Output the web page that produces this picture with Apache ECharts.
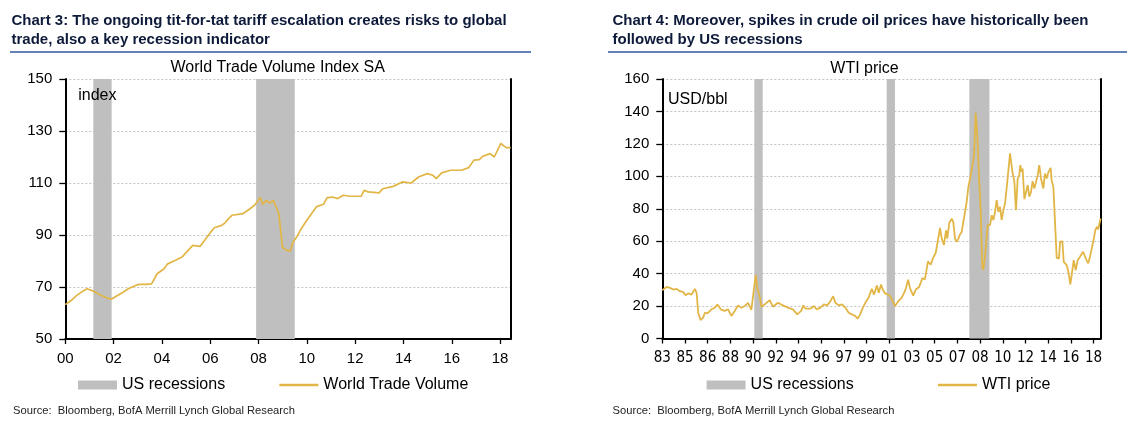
<!DOCTYPE html>
<html>
<head>
<meta charset="utf-8">
<title>World trade and WTI vs US recessions</title>
<script src="https://cdn.jsdelivr.net/npm/echarts@6.0.0/dist/echarts.min.js"></script>
<style>
  html, body { margin: 0; padding: 0; background: #fff; }
  #chart { width: 1127px; height: 432px; }
</style>
</head>
<body>
<div id="chart"></div>
<script>
(function () {
    'use strict';

    //////////DATA
    // Chart 3 - World Trade Volume Index SA, x = decimal year
    var tradeDates = [2000.00, 2000.24, 2000.46, 2000.76, 2000.90, 2000.98, 2001.16, 2001.50, 2001.72, 2001.90,
        2001.96, 2002.16, 2002.39, 2002.61, 2002.91, 2003.05, 2003.35, 2003.57, 2003.65, 2003.80,
        2004.09, 2004.24, 2004.54, 2004.83, 2004.98, 2005.28, 2005.58, 2005.87, 2006.02, 2006.17,
        2006.47, 2006.61, 2006.76, 2006.91, 2007.35, 2007.65, 2007.87, 2008.07, 2008.17, 2008.32,
        2008.47, 2008.61, 2008.76, 2008.84, 2008.99, 2009.13, 2009.31, 2009.43, 2009.58, 2009.73,
        2009.95, 2010.17, 2010.39, 2010.69, 2010.84, 2011.06, 2011.28, 2011.51, 2011.80, 2012.25,
        2012.37, 2012.54, 2012.99, 2013.14, 2013.58, 2013.95, 2014.32, 2014.62, 2014.99, 2015.21,
        2015.36, 2015.58, 2015.95, 2016.40, 2016.70, 2016.92, 2017.14, 2017.29, 2017.59, 2017.76,
        2018.03, 2018.25, 2018.44];
    var tradeIndex = [63.2, 64.8, 66.7, 68.6, 69.3, 69.3, 68.4, 66.7, 65.8, 65.3,
        64.8, 66.7, 68.0, 69.3, 70.6, 71.0, 71.0, 71.2, 72.5, 75.1,
        77.0, 78.9, 80.2, 81.5, 83.0, 86.0, 85.6, 89.2, 91.1, 92.8,
        93.7, 94.6, 96.3, 97.6, 98.2, 100.1, 101.8, 104.4, 101.8, 103.3,
        102.3, 103.3, 100.1, 98.2, 85.3, 84.3, 83.8, 87.3, 89.2, 91.8,
        95.0, 97.9, 100.8, 101.8, 104.4, 104.6, 104.0, 105.3, 104.9, 104.9,
        107.2, 106.6, 106.2, 107.8, 108.7, 110.4, 110.0, 112.3, 113.6, 113.0,
        111.7, 113.9, 114.9, 114.9, 115.9, 118.8, 119.0, 120.3, 121.3, 120.0,
        125.2, 123.6, 123.6];
    var tradeRecessions = [[2001.16, 2001.92], [2007.90, 2009.50]];
    var tradeTicks = [2000, 2002, 2004, 2006, 2008, 2010, 2012, 2014, 2016, 2018];

    // Chart 4 - WTI price, USD/bbl, x = decimal year
    var wtiDates = [1983.20, 1983.55, 1983.82, 1984.09, 1984.36, 1984.63, 1984.90, 1985.09, 1985.30, 1985.57,
        1985.84, 1985.98, 1986.11, 1986.30, 1986.51, 1986.65, 1986.86, 1987.19, 1987.46, 1987.67,
        1987.94, 1988.26, 1988.53, 1988.80, 1989.07, 1989.34, 1989.61, 1989.88, 1990.15, 1990.42,
        1990.58, 1990.77, 1990.90, 1991.09, 1991.23, 1991.50, 1991.90, 1992.17, 1992.57, 1992.98,
        1993.38, 1993.79, 1994.14, 1994.46, 1994.63, 1994.82, 1995.22, 1995.49, 1995.70, 1996.03,
        1996.29, 1996.56, 1996.83, 1997.05, 1997.23, 1997.50, 1997.77, 1998.04, 1998.31, 1998.57,
        1998.84, 1999.03, 1999.24, 1999.46, 1999.73, 1999.92, 2000.18, 2000.37, 2000.59, 2000.75,
        2000.93, 2001.07, 2001.26, 2001.52, 2001.71, 2002.06, 2002.33, 2002.60, 2002.87, 2002.95,
        2003.13, 2003.27, 2003.54, 2003.75, 2004.02, 2004.29, 2004.48, 2004.74, 2004.96, 2005.15,
        2005.36, 2005.55, 2005.71, 2005.85, 2006.03, 2006.20, 2006.30, 2006.47, 2006.66, 2006.79,
        2006.93, 2007.06, 2007.20, 2007.33, 2007.47, 2007.60, 2007.74, 2007.87, 2008.01, 2008.14,
        2008.22, 2008.36, 2008.47, 2008.60, 2008.74, 2008.87, 2009.01, 2009.14, 2009.22, 2009.36,
        2009.58, 2009.77, 2009.90, 2010.04, 2010.17, 2010.31, 2010.44, 2010.58, 2010.71, 2010.85,
        2010.98, 2011.14, 2011.39, 2011.58, 2011.74, 2011.87, 2012.01, 2012.14, 2012.22, 2012.33,
        2012.41, 2012.55, 2012.71, 2012.82, 2012.95, 2013.09, 2013.22, 2013.36, 2013.49, 2013.63,
        2013.76, 2013.90, 2014.09, 2014.22, 2014.36, 2014.49, 2014.68, 2014.76, 2014.90, 2015.17,
        2015.36, 2015.44, 2015.63, 2015.74, 2015.84, 2015.98, 2016.12, 2016.28, 2016.44, 2016.55,
        2016.71, 2016.87, 2017.06, 2017.31, 2017.59, 2017.73, 2017.93, 2018.16, 2018.30, 2018.44,
        2018.53, 2018.73];
    var wtiPrice = [29.8, 31.8, 31.2, 30.2, 30.6, 29.2, 28.6, 26.7, 27.8, 27.1,
        30.6, 28.2, 15.9, 11.4, 12.9, 15.9, 15.5, 18.0, 19.0, 21.0,
        18.0, 17.0, 18.0, 13.9, 17.0, 20.4, 19.0, 20.0, 22.0, 17.6,
        18.0, 39.2, 31.2, 26.0, 19.6, 21.0, 23.7, 19.6, 22.0, 20.4,
        19.0, 18.0, 14.9, 17.0, 20.4, 18.4, 18.4, 20.0, 18.0, 19.0,
        21.0, 20.4, 23.0, 26.1, 22.0, 20.4, 21.0, 19.0, 15.9, 14.9,
        13.9, 12.2, 14.9, 19.0, 23.0, 25.1, 30.6, 27.1, 32.7, 28.2,
        33.3, 30.2, 27.8, 27.1, 25.7, 20.0, 23.0, 25.1, 29.2, 31.2,
        36.3, 31.2, 26.5, 30.2, 31.8, 37.3, 36.3, 47.6, 45.5, 49.6,
        52.7, 60.8, 68.2, 61.6, 57.6, 66.7, 61.6, 71.4, 73.9, 71.8,
        61.6, 59.6, 61.6, 64.1, 65.7, 71.8, 78.0, 84.1, 93.3, 94.3,
        101.4, 102.4, 112.7, 139.2, 124.9, 100.4, 78.0, 44.3, 42.2, 50.4,
        69.9, 69.9, 76.0, 73.0, 78.0, 85.3, 78.0, 81.2, 73.0, 79.1,
        83.2, 94.6, 114.1, 102.8, 96.6, 79.1, 98.7, 100.7, 106.9, 102.8,
        104.8, 85.9, 86.3, 94.6, 87.4, 90.4, 97.0, 92.5, 93.5, 100.7,
        106.9, 98.7, 92.5, 101.7, 98.7, 102.4, 105.2, 97.6, 93.5, 49.7,
        49.3, 59.6, 60.0, 47.3, 48.3, 45.2, 41.1, 33.3, 42.1, 48.3,
        42.1, 48.3, 50.4, 53.5, 48.3, 46.3, 52.4, 60.7, 66.8, 68.9,
        67.2, 74.0];
    var wtiRecessions = [[1990.66, 1991.34], [2001.39, 2002.06], [2008.09, 2009.72]];
    // the source axis puts a label every 1.84 years starting at 83
    var wtiTickStart = 1983.2;
    var wtiTickStep = 1.84;
    var wtiTickCount = 20;

    //////////STYLE
    var GOLD = '#E2B646';
    var GREY = '#BFBFBF';
    var NAVY = '#0E1A3A';
    var RULE = '#6482B8';
    var SANS = '"Liberation Sans", Arial, sans-serif';
    var NARROW = '"Liberation Sans Narrow", "Arial Narrow", "DejaVu Sans Condensed", sans-serif';

    var wtiTicks = [];
    for (var k = 0; k < wtiTickCount; k++) {
        wtiTicks.push(+(wtiTickStart + k * wtiTickStep).toFixed(2));
    }

    function pairs(xs, ys) {
        return xs.map(function (x, i) { return [x, ys[i]]; });
    }
    function recessionAreas(list) {
        return list.map(function (r) { return [{ xAxis: r[0] }, { xAxis: r[1] }]; });
    }
    function yearLabel(v) {
        var y = Math.floor(v + 1e-6) % 100;
        return (y < 10 ? '0' : '') + y;
    }

    function xAxisFor(gridIndex, min, max, ticks, labelFont) {
        return {
            type: 'value', gridIndex: gridIndex, min: min, max: max,
            axisLine: { lineStyle: { color: '#000', width: 2 } },
            axisTick: { show: true, customValues: ticks, length: 5, lineStyle: { color: '#000', width: 1.3 } },
            axisLabel: { customValues: ticks, formatter: yearLabel, margin: 12, color: '#000',
                fontSize: 15, fontFamily: labelFont },
            splitLine: { show: false }
        };
    }
    function yAxisFor(gridIndex, min, max, interval) {
        return {
            type: 'value', gridIndex: gridIndex, min: min, max: max, interval: interval,
            axisLine: { show: true, lineStyle: { color: '#000', width: 2 } },
            axisTick: { show: true, length: 6, lineStyle: { color: '#000', width: 1.3 } },
            axisLabel: { margin: 13, color: '#000', fontSize: 15, fontFamily: SANS },
            splitLine: { show: true, lineStyle: { color: '#C4C4C4', type: [2, 2], width: 1 } }
        };
    }
    function rightBorder(gridIndex, min, max) {
        return {
            type: 'value', gridIndex: gridIndex, position: 'right', min: min, max: max,
            axisLine: { show: true, lineStyle: { color: '#000', width: 2 } },
            axisTick: { show: false }, axisLabel: { show: false }, splitLine: { show: false }
        };
    }
    function recessionSeries(axisIndex, list) {
        return {
            name: 'US recessions', type: 'line', xAxisIndex: axisIndex, yAxisIndex: axisIndex * 2,
            data: [], symbol: 'none', color: GREY, itemStyle: { color: GREY },
            lineStyle: { width: 0 }, z: 1,
            markArea: { silent: true, itemStyle: { color: GREY, opacity: 1 }, data: recessionAreas(list) }
        };
    }
    function priceSeries(name, axisIndex, data, width) {
        return {
            name: name, type: 'line', xAxisIndex: axisIndex, yAxisIndex: axisIndex * 2,
            data: data, symbol: 'none', showSymbol: false, color: GOLD,
            lineStyle: { color: GOLD, width: width }, z: 3, animation: false
        };
    }
    function label(text, x, y, font, align, color) {
        return {
            type: 'text', x: x, y: y, silent: true, z: 100,
            style: { text: text, font: font, fill: color || '#000',
                align: align || 'left', verticalAlign: 'middle',
                textAlign: align || 'left', textVerticalAlign: 'middle' }
        };
    }
    function rule(x1, x2, y) {
        return { type: 'line', silent: true, z: 100, shape: { x1: x1, y1: y, x2: x2, y2: y },
            style: { stroke: RULE, lineWidth: 2 } };
    }
    function legendFor(left, gap, lineName) {
        return {
            left: left, top: 377, padding: 0, itemWidth: 39, itemHeight: 9, itemGap: gap,
            selectedMode: false, orient: 'horizontal',
            lineStyle: { width: 2.4 },
            textStyle: { fontSize: 16, color: '#000', fontFamily: SANS },
            data: [
                { name: 'US recessions', icon: 'rect' },
                // line only, no marker dot in the middle
                { name: lineName, itemStyle: { color: 'transparent', borderWidth: 0, opacity: 0 } }
            ]
        };
    }

    var chart = echarts.init(document.getElementById('chart'), null, { renderer: 'canvas' });
    var option = {
        backgroundColor: '#fff',
        animation: false,
        textStyle: { fontFamily: SANS },
        grid: [
            { left: 65.3, top: 79, width: 445.4, height: 260 },
            { left: 662.3, top: 79, width: 438.3, height: 259.5 }
        ],
        xAxis: [
            xAxisFor(0, 2000, 2018.44, tradeTicks, SANS),
            xAxisFor(1, wtiTickStart, 2018.73, wtiTicks, NARROW)
        ],
        yAxis: [
            yAxisFor(0, 50, 150, 20),
            rightBorder(0, 50, 150),
            yAxisFor(1, 0, 160, 20),
            rightBorder(1, 0, 160)
        ],
        legend: [
            legendFor(78, 53, 'World Trade Volume'),
            legendFor(706.6, 83, 'WTI price')
        ],
        series: [
            recessionSeries(0, tradeRecessions),
            priceSeries('World Trade Volume', 0, pairs(tradeDates, tradeIndex), 1.7),
            recessionSeries(1, wtiRecessions),
            priceSeries('WTI price', 1, pairs(wtiDates, wtiPrice), 1.8)
        ],
        graphic: [
            label('Chart 3: The ongoing tit-for-tat tariff escalation creates risks to global', 11.5, 20.8, 'bold 15px ' + SANS, 'left', NAVY),
            label('trade, also a key recession indicator', 11.5, 40, 'bold 15px ' + SANS, 'left', NAVY),
            rule(10, 531, 52),
            label('Chart 4: Moreover, spikes in crude oil prices have historically been', 612.5, 20.8, 'bold 15px ' + SANS, 'left', NAVY),
            label('followed by US recessions', 612.5, 40, 'bold 15px ' + SANS, 'left', NAVY),
            rule(608, 1127, 52),
            label('World Trade Volume Index SA', 277.7, 68, '16px ' + SANS, 'center'),
            label('WTI price', 864.5, 68.5, '16px ' + SANS, 'center'),
            label('index', 78.2, 95.5, '16px ' + SANS, 'left'),
            label('USD/bbl', 668, 99.5, '16px ' + SANS, 'left'),
            label('Source:  Bloomberg, BofA Merrill Lynch Global Research', 13, 411, '11.2px ' + SANS, 'left', '#222'),
            label('Source:  Bloomberg, BofA Merrill Lynch Global Research', 612.5, 411, '11.2px ' + SANS, 'left', '#222')
        ]
    };
    chart.setOption(option);
})();
</script>
</body>
</html>
